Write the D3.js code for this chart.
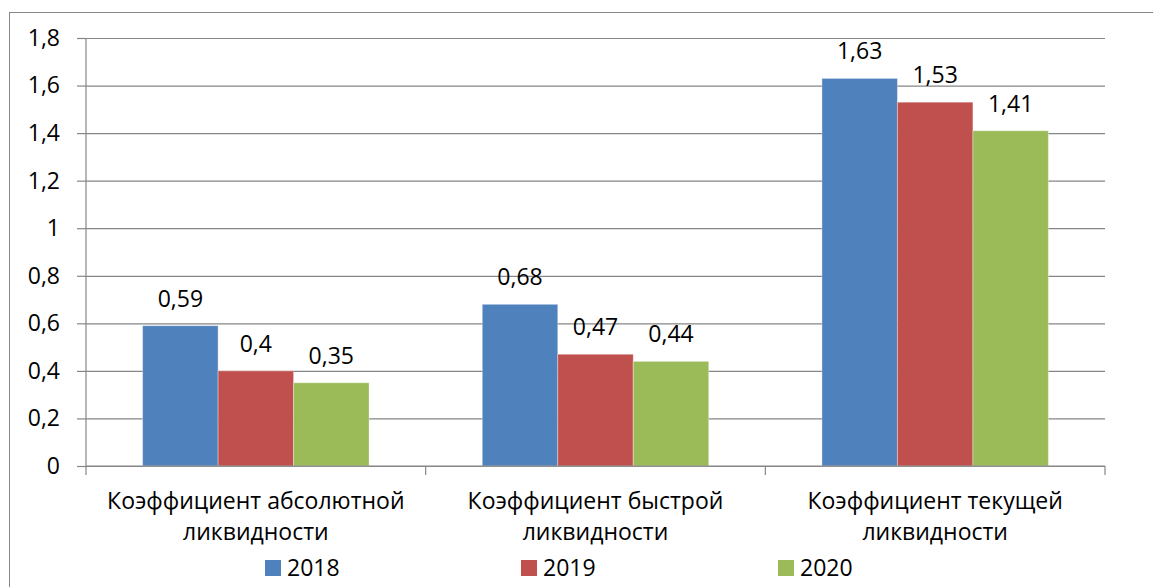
<!DOCTYPE html>
<html><head><meta charset="utf-8">
<script src="https://cdn.jsdelivr.net/npm/d3@7"></script>
<style>
html,body{margin:0;padding:0;background:#fff;}
text{font-family:"Open Sans","Noto Sans",sans-serif;fill:#000;}
</style></head>
<body><svg id="c" width="1153" height="587"></svg>
<script>
const categories = [
  ["Коэффициент абсолютной", "ликвидности"],
  ["Коэффициент быстрой", "ликвидности"],
  ["Коэффициент текущей", "ликвидности"]
];
const years = ["2018", "2019", "2020"];
const v2018 = [0.59, 0.68, 1.63];
const v2019 = [0.40, 0.47, 1.53];
const v2020 = [0.35, 0.44, 1.41];
const yTicks = [0, 0.2, 0.4, 0.6, 0.8, 1, 1.2, 1.4, 1.6, 1.8];
const colors = ["#4F81BD", "#C0504D", "#9BBB59"];

const series = [v2018, v2019, v2020];
const catKeys = categories.map(c => c.join(" "));
const fmt = v => String(+v.toFixed(2)).replace(".", ",");
const FS = 23;

const svg = d3.select("#c");
const L = 86, R = 1105, T = 38, B = 466;
const grid = "#868686";

// outer border
svg.append("rect").attr("x", 9.5).attr("y", 12.5).attr("width", 1160).attr("height", 600)
  .attr("fill", "none").attr("stroke", grid).attr("stroke-width", 1);

const y = d3.scaleLinear().domain([0, 1.8]).range([B, T]);
const x0 = d3.scaleBand().domain(catKeys).range([L, R]).padding(0);
const bw = x0.bandwidth();
const x1 = d3.scaleBand().domain(years).range([bw / 6, bw * 5 / 6]).padding(0);

// gridlines + y ticks
const gAxisY = svg.append("g").attr("transform", `translate(${L},0)`)
  .call(d3.axisLeft(y).tickValues(yTicks).tickSize(9).tickPadding(17).tickFormat(fmt));
gAxisY.select(".domain").remove();
gAxisY.selectAll(".tick line").attr("stroke", grid).attr("stroke-width", 1.2);
gAxisY.selectAll(".tick text").attr("font-size", FS).attr("fill", "#000")
  .attr("font-family", '"Open Sans","Noto Sans",sans-serif');
gAxisY.selectAll(".tick").append("line").attr("x1", 0).attr("x2", R - L)
  .attr("stroke", grid).attr("stroke-width", 1.2);

// y axis line
svg.append("line").attr("x1", L).attr("x2", L).attr("y1", y(1.8)).attr("y2", B)
  .attr("stroke", grid).attr("stroke-width", 1.2);

// bars
const groups = svg.append("g").selectAll("g").data(catKeys).join("g")
  .attr("transform", d => `translate(${x0(d)},0)`);
groups.each(function (cat, ci) {
  const g = d3.select(this);
  years.forEach((yr, si) => {
    const v = series[si][ci];
    g.append("rect").attr("x", x1(yr)).attr("y", y(v)).attr("width", x1.bandwidth())
      .attr("height", y(0) - y(v)).attr("fill", colors[si])
      .attr("stroke", "rgba(255,255,255,0.35)").attr("stroke-width", 1);
    g.append("text").attr("x", x1(yr) + x1.bandwidth() / 2).attr("y", y(v) - 19)
      .attr("text-anchor", "middle").attr("font-size", FS).text(fmt(v));
  });
});

// x axis line + ticks at band boundaries
svg.append("line").attr("x1", L).attr("x2", R).attr("y1", B).attr("y2", B)
  .attr("stroke", grid).attr("stroke-width", 1.2);
const bounds = [x0(catKeys[0])].concat(catKeys.map(c => x0(c) + bw));
svg.append("g").selectAll("line").data(bounds).join("line")
  .attr("x1", d => d).attr("x2", d => d).attr("y1", B).attr("y2", B + 9)
  .attr("stroke", grid).attr("stroke-width", 1.2);

// category labels
const lab = svg.append("g").selectAll("text").data(categories).join("text")
  .attr("text-anchor", "middle").attr("font-size", FS)
  .attr("x", (d, i) => x0(catKeys[i]) + bw / 2);
lab.each(function (d, i) {
  const t = d3.select(this);
  const cx = x0(catKeys[i]) + bw / 2;
  t.append("tspan").attr("x", cx).attr("y", 509).text(d[0]);
  t.append("tspan").attr("x", cx).attr("y", 540).text(d[1]);
});

// legend
const legX = [265, 521, 778];
const leg = svg.append("g").selectAll("g").data(years).join("g")
  .attr("transform", (d, i) => `translate(${legX[i]},560)`);
leg.append("rect").attr("width", 16).attr("height", 16).attr("fill", (d, i) => colors[i]);
leg.append("text").attr("x", 22).attr("y", 15.5).attr("font-size", FS).text(d => d);
</script></body></html>
